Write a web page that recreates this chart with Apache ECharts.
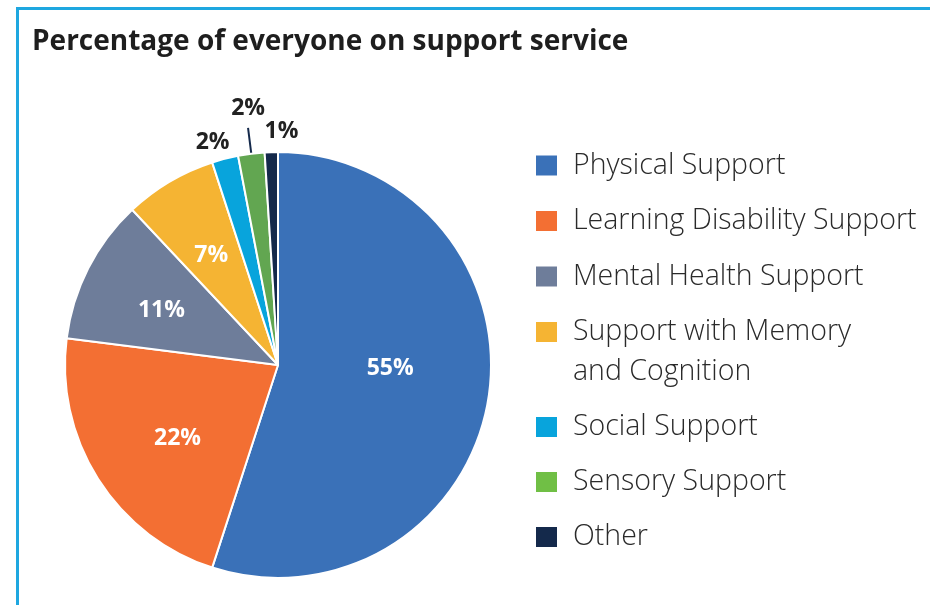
<!DOCTYPE html>
<html>
<head>
<meta charset="utf-8">
<script src="https://cdn.jsdelivr.net/npm/echarts@6/dist/echarts.min.js"></script>
<style>
html,body{margin:0;padding:0;background:#fff;}
#frame{position:absolute;left:16px;top:7px;width:930px;height:620px;border-left:3px solid #1ea7e0;border-top:3px solid #1ea7e0;}
#chart{position:absolute;left:0;top:0;width:930px;height:605px;}
</style>
</head>
<body>
<div id="frame"></div>
<div id="chart"></div>
<script>
const categories = ['Physical Support','Learning Disability Support','Mental Health Support','Support with Memory\nand Cognition','Social Support','Sensory Support','Other'];
const values = [55, 22, 11, 7, 2, 2, 1];
const sliceColors = ['#3a71b8','#f36f33','#6e7d9a','#f5b433','#08a4dc','#62a651','#14294b'];
const legendColors = ['#3a71b8','#f36f33','#6e7d9a','#f5b433','#08a4dc','#70bf45','#14294b'];

const insideIdx = [0,1,2,3];
const labelShift = [[4,-14],[-8,15],[-19,-5],[-11,-15],[16,9],[22,-19],[33,5]];

const chart = echarts.init(document.getElementById('chart'));
const legendText = {fontFamily:'Open Sans', fontSize:28.5, fontWeight:300, color:'#2a2a2a', lineHeight:40, padding:[0,0,0,10]};
function legendData(idx){
  return idx.map(i => ({name: categories[i], itemStyle:{color: legendColors[i]}}));
}

const option = {
  animation:false,
  title:{text:'Percentage of everyone on support service', left:27, top:23,
    textStyle:{fontFamily:'Open Sans', fontWeight:'bold', fontSize:28, color:'#1e1e1e'}},
  legend:[
    {orient:'vertical', left:534, top:145.5, padding:0, itemGap:15.5, itemWidth:23, itemHeight:22, icon:'rect',
     selectedMode:false, data:legendData([0,1,2]), textStyle:legendText},
    {orient:'vertical', left:534, top:272, padding:0, itemWidth:23, itemHeight:22, icon:'rect',
     selectedMode:false, data:legendData([3]), textStyle:legendText,
     formatter: function(n){ return ' \n' + n; }},
    {orient:'vertical', left:534, top:407, padding:0, itemGap:15, itemWidth:23, itemHeight:22, icon:'rect',
     selectedMode:false, data:legendData([4,5,6]), textStyle:legendText}
  ],
  series:[{
    type:'pie', center:[278,365], radius:213, startAngle:90, clockwise:true,
    avoidLabelOverlap:false,
    itemStyle:{borderColor:'#fff', borderWidth:2},
    data: categories.map((c,i)=>{
      const inside = insideIdx.indexOf(i) >= 0;
      return {
        name:c, value:values[i], itemStyle:{color:sliceColors[i]},
        label: inside ? {position:'inside', color:'#fff'} : {position:'outside', color:'#222'},
        labelLine: {show: i===5, length:26, length2:0, lineStyle:{color:'#14294b', width:2}}
      };
    }),
    label:{show:true, formatter:'{d}%', fontFamily:'Open Sans', fontWeight:'bold', fontSize:23},
    emphasis:{disabled:true},
    labelLayout: function(p){ const s = labelShift[p.dataIndex]; return {dx:s[0], dy:s[1]}; }
  }]
};
chart.setOption(option);
</script>
</body>
</html>
